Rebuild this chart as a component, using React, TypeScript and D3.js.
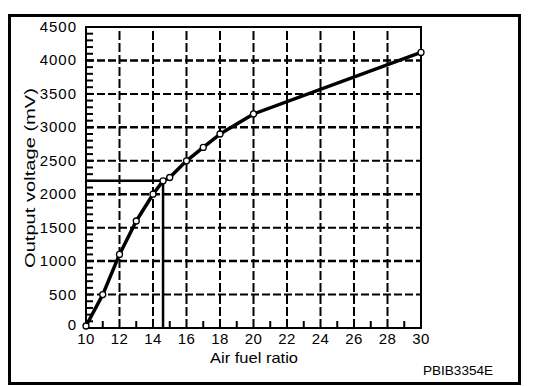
import React from 'react';
import * as d3 from 'd3';

// sensor curve
const afr = [10, 11, 12, 13, 14, 14.6, 15, 16, 17, 18, 20, 30];
const voltage = [30, 500, 1100, 1600, 2000, 2200, 2250, 2500, 2700, 2900, 3200, 4120];
const xTicks = [10, 12, 14, 16, 18, 20, 22, 24, 26, 28, 30];
const xMinor = [11, 13, 15, 17, 19, 21, 23, 25, 27, 29];
const yTicks = [0, 500, 1000, 1500, 2000, 2500, 3000, 3500, 4000, 4500];
const yMinor = d3.range(0, 4501, 100);
const refPoint = { afr: 14.6, voltage: 2200 };

const font = '"Liberation Sans", Arial, Helvetica, sans-serif';

export default function App() {
    const margin = { left: 86, top: 27, right: 421, bottom: 328 };
    const x = d3.scaleLinear().domain([10, 30]).range([margin.left, margin.right]);
    const y = d3.scaleLinear().domain([0, 4500]).range([margin.bottom, margin.top]);

    const points = afr.map((a, i) => [a, voltage[i]] as [number, number]);
    const line = d3.line<[number, number]>()
        .x(d => x(d[0]))
        .y(d => y(d[1]));

    return (
        <svg width={560} height={386} style={{ position: 'absolute', left: 0, top: 0, background: '#fff' }}>
            {/* outer frame */}
            <rect x={9.5} y={15.5} width={510} height={368} fill="none" stroke="#000" strokeWidth={3} />

            {/* dashed grid */}
            {xTicks.slice(1, -1).map(t => (
                <line key={'gx' + t} x1={x(t)} x2={x(t)} y1={y(0)} y2={y(4500)}
                    stroke="#000" strokeWidth={2} strokeDasharray="9,3" />
            ))}
            {yTicks.slice(1, -1).map(t => (
                <line key={'gy' + t} x1={x(10)} x2={x(30)} y1={y(t)} y2={y(t)}
                    stroke="#000" strokeWidth={t % 1000 === 0 ? 2.5 : 2} strokeDasharray="8,3" />
            ))}

            {/* minor ticks */}
            {yMinor.map(t => (
                <line key={'my' + t} x1={x(10)} x2={x(10) + 7} y1={y(t)} y2={y(t)} stroke="#000" strokeWidth={2} />
            ))}
            {xMinor.map(t => (
                <line key={'mx' + t} x1={x(t)} x2={x(t)} y1={y(0)} y2={y(0) - 7} stroke="#000" strokeWidth={2} />
            ))}

            {/* plot frame */}
            <rect x={x(10)} y={y(4500)} width={x(30) - x(10)} height={y(0) - y(4500)}
                fill="none" stroke="#000" strokeWidth={2} />

            {/* stoichiometric reference */}
            <polyline
                points={`${x(10)},${y(refPoint.voltage)} ${x(refPoint.afr)},${y(refPoint.voltage)} ${x(refPoint.afr)},${y(0)}`}
                fill="none" stroke="#000" strokeWidth={2.5} />

            {/* curve */}
            <path d={line(points) ?? ''} fill="none" stroke="#000" strokeWidth={3.5} strokeLinejoin="round" />
            {points.map((p, i) => (
                <circle key={'p' + i} cx={x(p[0])} cy={y(p[1])} r={3} fill="#fff" stroke="#000" strokeWidth={1.3} />
            ))}

            {/* axis labels */}
            {xTicks.map(t => (
                <text key={'lx' + t} x={x(t)} y={344} textAnchor="middle" fontFamily={font} fontSize={15}
                    letterSpacing={0.5}>{t}</text>
            ))}
            {yTicks.map(t => (
                <text key={'ly' + t} x={77} y={t === 0 ? y(t) + 2 : y(t) + 5} textAnchor="end"
                    fontFamily={font} fontSize={15} letterSpacing={1}>{t}</text>
            ))}

            <text x={254} y={363} textAnchor="middle" fontFamily={font} fontSize={14.5}
                textLength={88} lengthAdjust="spacingAndGlyphs">Air fuel ratio</text>
            <text transform="translate(35,178) rotate(-90)" textAnchor="middle" fontFamily={font} fontSize={15}
                textLength={180} lengthAdjust="spacingAndGlyphs">Output voltage (mV)</text>
            <text x={458} y={375} textAnchor="middle" fontFamily={font} fontSize={12}
                textLength={70} lengthAdjust="spacingAndGlyphs">PBIB3354E</text>
        </svg>
    );
}
